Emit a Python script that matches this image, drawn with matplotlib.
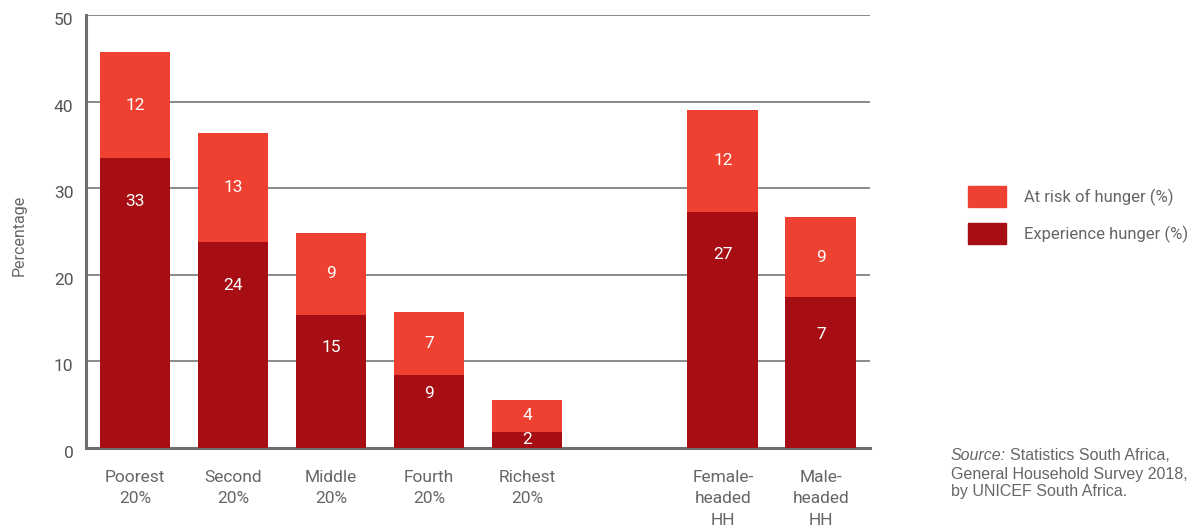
import matplotlib
matplotlib.use("Agg")
import matplotlib.pyplot as plt
import matplotlib.transforms as mtransforms
from matplotlib.patches import Patch

plt.rcParams['font.family'] = ['Roboto', 'DejaVu Sans']

# --- data ---
categories = ['Poorest\n20%', 'Second\n20%', 'Middle\n20%', 'Fourth\n20%', 'Richest\n20%',
              'Female-\nheaded\nHH', 'Male-\nheaded\nHH']
positions = [0, 1, 2, 3, 4, 6, 7]
experience = [33.5, 23.8, 15.4, 8.4, 1.85, 27.3, 17.4]
at_risk = [12.2, 12.6, 9.4, 7.3, 3.7, 11.7, 9.3]
experience_labels = ['33', '24', '15', '9', '2', '27', '7']
at_risk_labels = ['12', '13', '9', '7', '4', '12', '9']

c_risk = '#ef4132'
c_exp = '#a60e14'
grey = '#666666'

fig = plt.figure(figsize=(11.96, 5.28), dpi=100)
ax = fig.add_axes([0.0719, 0.1515, 0.6555, 0.8201])

w = 0.724
ax.bar(positions, experience, width=w, color=c_exp, zorder=3)
ax.bar(positions, at_risk, width=w, bottom=experience, color=c_risk, zorder=3)

# valeurs dans les barres
for x, e, r, le, lr in zip(positions, experience, at_risk, experience_labels, at_risk_labels):
    if e < 4:
        ye = e / 2
    else:
        ye = e - min(5, 0.25 * e)
    ax.text(x, ye, le, ha='center', va='center', color='white', fontsize=12.5, zorder=4)
    ax.text(x, e + r / 2, lr, ha='center', va='center', color='white', fontsize=12.5, zorder=4)

ax.set_xlim(-0.5, 7.5)
ax.set_ylim(0, 50)
ax.set_yticks(range(0, 51, 10))
ax.set_xticks(positions)
ax.set_xticklabels(categories, fontsize=12.5, color=grey, linespacing=1.52, va='top')
ax.tick_params(axis='y', length=0, pad=9, labelsize=12.5, labelcolor='#555555')
ax.tick_params(axis='x', length=0, pad=16)
off = mtransforms.ScaledTranslation(0, -4 / 100, fig.dpi_scale_trans)
for lab in ax.get_yticklabels():
    lab.set_transform(lab.get_transform() + off)

ax.grid(axis='y', color='#8a8a8a', linewidth=1.4, zorder=0)
ax.set_axisbelow(True)
for s in ['top', 'right']:
    ax.spines[s].set_visible(False)
for s in ['left', 'bottom']:
    ax.spines[s].set_color('#6e6e6e')
    ax.spines[s].set_linewidth(2.2)

ax.set_ylabel('Percentage', fontsize=11.5, color=grey)
ax.yaxis.set_label_coords(-0.076, 0.49)

handles = [Patch(color=c_risk, label='At risk of hunger (%)'),
           Patch(color=c_exp, label='Experience hunger (%)')]
fig.legend(handles=handles, loc='upper left', bbox_to_anchor=(0.8025, 0.664), frameon=False,
           fontsize=12, handlelength=2.28, handleheight=1.6, handletextpad=1.08,
           labelspacing=0.95, borderpad=0, labelcolor=grey)

src_y = 0.152
t = fig.text(0.795, src_y, 'Source:', fontsize=11.5, style='italic', color=grey,
             family='Liberation Sans', va='top')
fig.canvas.draw()
bb = t.get_window_extent()
fig.text(bb.x1 / fig.bbox.width + 0.003, src_y, 'Statistics South Africa,', fontsize=11.5,
         color=grey, family='Liberation Sans', va='top')
fig.text(0.795, src_y - 0.036, 'General Household Survey 2018,\nby UNICEF South Africa.',
         fontsize=11.5, color=grey, family='Liberation Sans', va='top', linespacing=1.22)

fig.savefig('out.png', dpi=100)
